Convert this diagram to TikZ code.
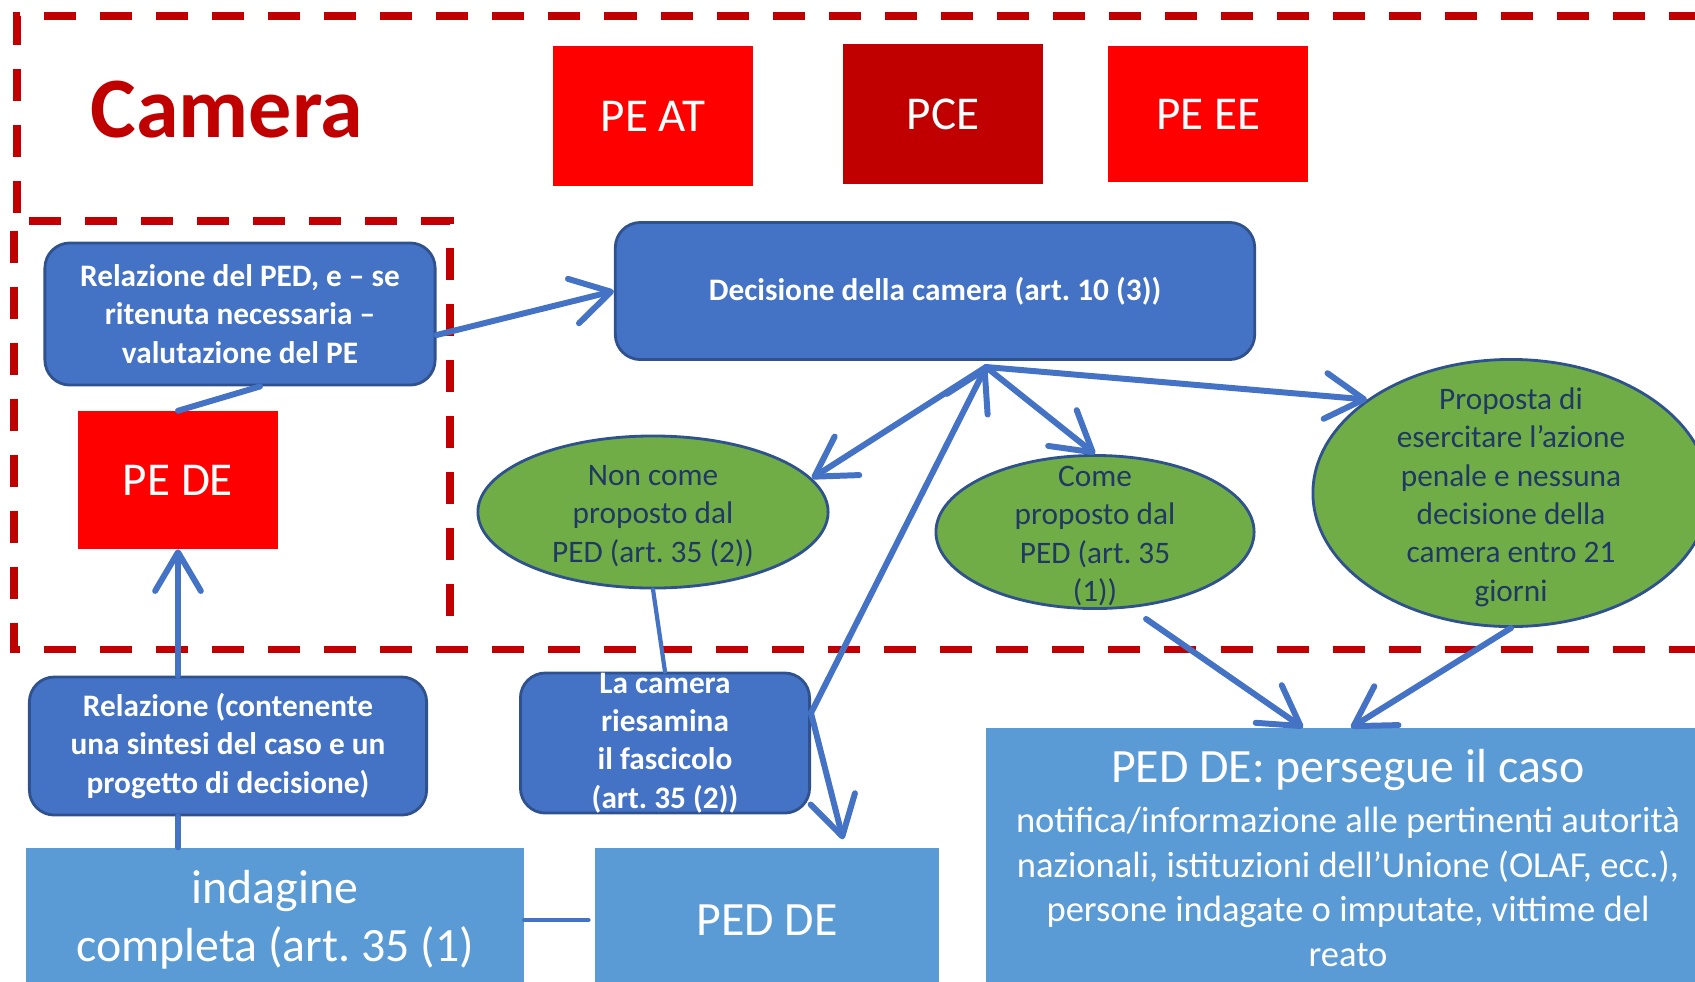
\documentclass[tikz,border=0pt]{standalone}
\usepackage{fontspec}
\setmainfont{Carlito}
\frenchspacing
\usetikzlibrary{arrows.meta, shapes.geometric, positioning}

\definecolor{camred}{HTML}{C00000}
\definecolor{pered}{HTML}{FF0000}
\definecolor{boxblue}{HTML}{4472C4}
\definecolor{edgeblue}{HTML}{2F528F}
\definecolor{lightblue}{HTML}{5B9BD5}
\definecolor{okgreen}{HTML}{70AD47}
\definecolor{navy}{HTML}{203864}

\tikzset{
  member/.style={fill=pered, text=white, inner sep=0pt, minimum width=2cm, minimum height=1.37cm, font=\fontsize{13.4}{16}\selectfont},
  bluebox/.style={fill=boxblue, draw=edgeblue, line width=0.8pt, rounded corners=0.25cm, text=white, align=center, inner sep=0pt, font=\bfseries\fontsize{8.9}{10.9}\selectfont},
  outcome/.style={ellipse, fill=okgreen, draw=edgeblue, line width=0.8pt, inner sep=0pt},
  outcometext/.style={text=navy, align=center, inner sep=0pt, yshift=-0.04cm, font=\fontsize{8.9}{10.9}\selectfont},
  pedbox/.style={fill=lightblue, text=white, align=center, inner sep=0pt, font=\fontsize{13.6}{16.6}\selectfont},
  flow/.style={draw=boxblue, line width=1.7pt, line cap=round, line join=round},
  flowarrow/.style={flow, -{Straight Barb[length=11pt,width=13pt,round]}},
  camline/.style={draw=camred, line width=2pt, dash pattern=on 0.32cm off 0.24cm}
}

\begin{document}
\begin{tikzpicture}[x=0.01cm, y=-0.01cm]

\useasboundingbox (0,0) rectangle (1695,981);

\draw[camline] (17,213) -- (17,16) -- (1695,16);
\draw[camline] (450,616) -- (450,221) -- (14,221) -- (14,649) -- (1695,649);

\node[font=\bfseries\fontsize{24.5}{29}\selectfont, text=camred] (camera) at (227,110) {Camera};
\node[member, minimum height=1.39cm] (peat) at (653,116) {PE AT};
\node[member, fill=camred, minimum width=1.99cm, minimum height=1.39cm] (pce) at (943,114) {PCE};
\node[member, minimum height=1.36cm] (peee) at (1208,114) {PE EE};

\node[bluebox, minimum width=6.39cm, minimum height=1.37cm] (decisione) at (935,291) {Decisione della camera (art. 10 (3))};
\node[bluebox, minimum width=3.9cm, minimum height=1.42cm] (relped) at (240,314) {Relazione del PED, e – se\\ritenuta necessaria –\\valutazione del PE};
\node[member, minimum width=1.99cm] (pede) at (178,480) {PE DE};

\node[outcome, minimum width=3.5cm, minimum height=1.52cm, label={[outcometext]center:{Non come\\proposto dal\\PED (art. 35 (2))}}] (noncome) at (653,512) {};
\node[outcome, minimum width=3.18cm, minimum height=1.53cm, label={[outcometext]center:{Come\\proposto dal\\PED (art. 35\\(1))}}] (come) at (1095,532) {};
\node[outcome, minimum width=3.96cm, minimum height=2.67cm, label={[outcometext]center:{Proposta di\\esercitare l’azione\\penale e nessuna\\decisione della\\camera entro 21\\giorni}}] (proposta) at (1511,493) {};

\node[bluebox, minimum width=3.97cm, minimum height=1.38cm] (relcont) at (228,746) {Relazione (contenente\\una sintesi del caso e un\\progetto di decisione)};
\node[bluebox, minimum width=2.89cm, minimum height=1.4cm] (riesamina) at (665,743) {La camera\\riesamina\\il fascicolo\\(art. 35 (2))};

\node[pedbox, minimum width=4.97cm, minimum height=1.44cm] (indagine) at (275,920) {indagine\\completa (art. 35 (1)};
\node[pedbox, minimum width=3.44cm, minimum height=1.44cm] (peddebox) at (767,920) {PED DE};
\node[pedbox, minimum width=7.24cm, minimum height=2.71cm] (persegue) at (1348,864) {};
\node[pedbox] (perseguetitle) at (1348,770) {PED DE: persegue il caso};
\node[pedbox, font=\fontsize{10.4}{12.7}\selectfont] (perseguetext) at (1348,887) {notifica/informazione alle pertinenti autorità\\nazionali, istituzioni dell’Unione (OLAF, ecc.),\\persone indagate o imputate, vittime del\\reato};

\coordinate (hub) at (986,367);
\coordinate (split) at ([yshift=0.3cm]riesamina.east);

\draw[flowarrow] ([yshift=-0.21cm]relped.east) -- (decisione.west);
\draw[flow] (pede.north) -- ([xshift=0.2cm]relped.south);
\draw[flowarrow] (relcont.north -| pede.south) -- (pede.south);
\draw[flow] (indagine.north -| pede.south) -- (relcont.south -| pede.south);
\draw[flow, line width=1.4pt] (indagine.east) -- ([xshift=-0.06cm]peddebox.west);
\draw[flow, line width=1.2pt] (noncome.south) -- (riesamina.north);

\draw[flowarrow] (hub) -- (noncome.12);
\draw[flowarrow] (hub) -- (come.north);
\draw[flowarrow] (hub) -- (proposta.147);
\draw[flowarrow] (split) -- (hub);
\draw[flowarrow] (split) -- ([xshift=0.76cm, yshift=0.08cm]peddebox.north);
\draw[flowarrow] ([xshift=0.51cm, yshift=-0.09cm]come.south) -- ([xshift=-0.45cm]persegue.north);
\draw[flowarrow] (proposta.south) -- ([xshift=0.03cm]persegue.north);

\end{tikzpicture}
\end{document}
